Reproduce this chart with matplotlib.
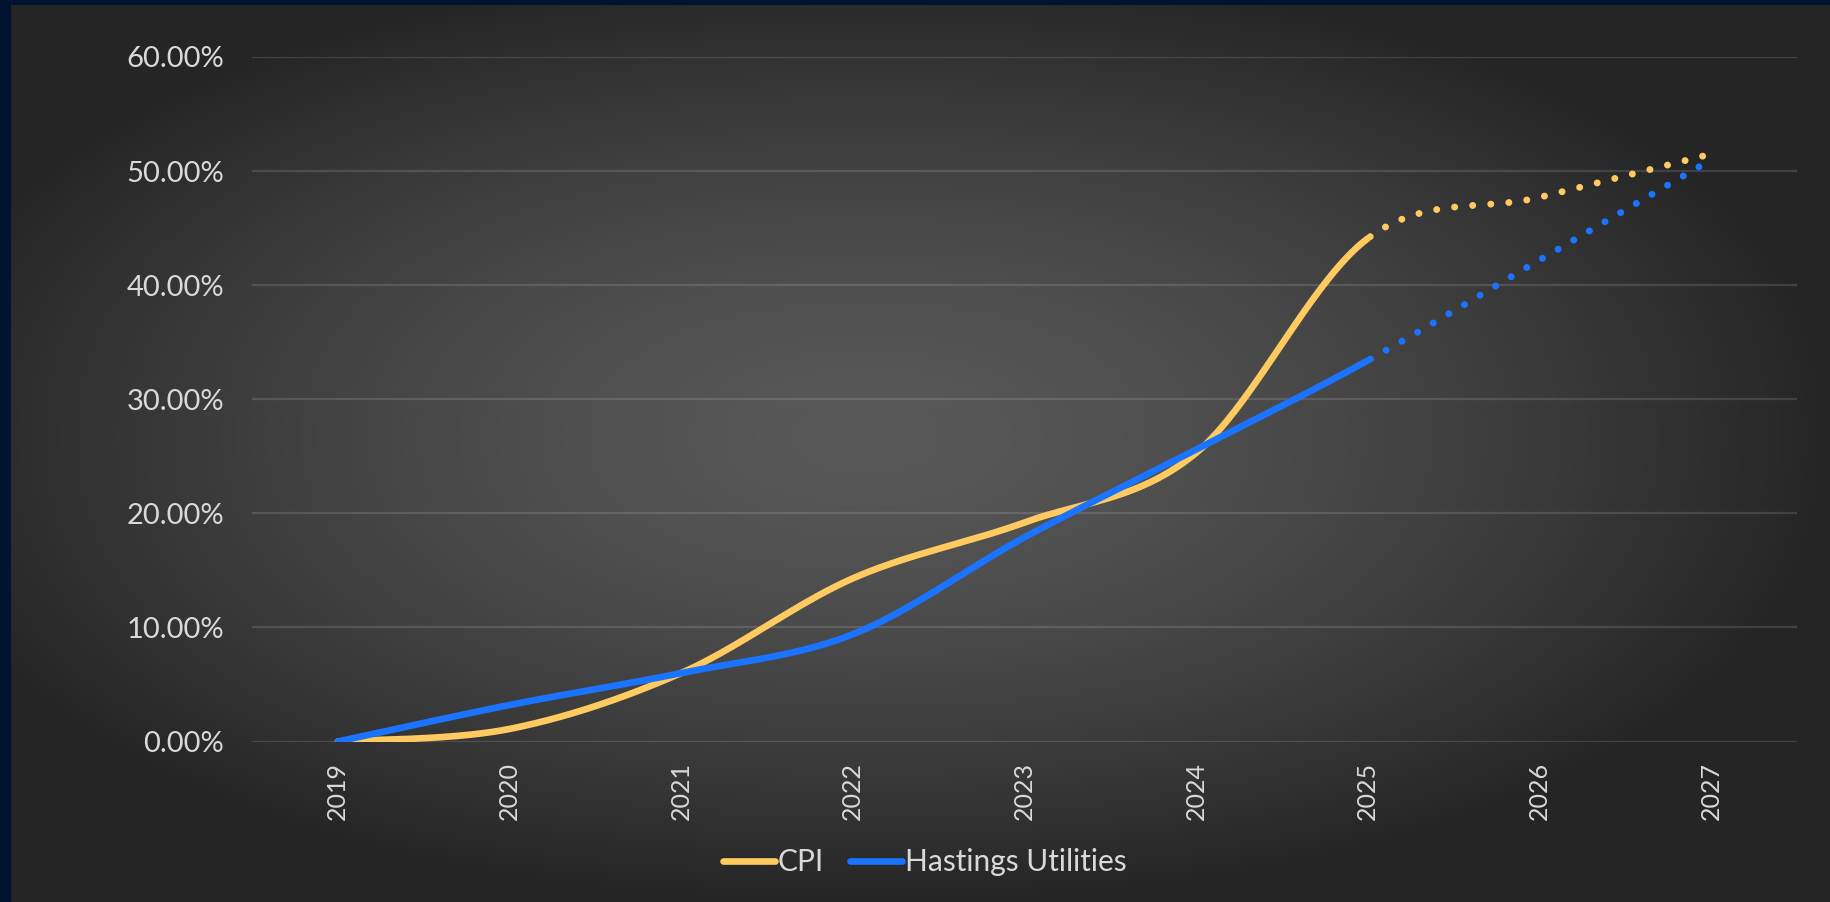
import numpy as np
import matplotlib
matplotlib.use('Agg')
import matplotlib.pyplot as plt
from matplotlib.lines import Line2D
from matplotlib.patches import Rectangle

years = ['2019', '2020', '2021', '2022', '2023', '2024', '2025', '2026', '2027']
cpi = [0.0, 1.1, 6.0, 14.3, 19.2, 25.3, 44.1, 47.7, 51.5]
hastings = [0.0, 3.2, 6.0, 9.4, 17.9, 25.6, 33.4, 42.2, 51.0]
forecast_from = '2025'  # points after this are projections (dotted)

CPI_COLOR = '#FFCA5F'
HU_COLOR = '#1A74FF'
TEXT_COLOR = '#D9D9D9'
FONT = ['Lato', 'DejaVu Sans']


def smooth(xs, ys, steps=40):
    """
    Excel-style smoothed line: cubic bezier per segment,
    control points offset by (P[i+1] - P[i-1]) / 6
    returns dense x, y arrays and the index where each input point lands
    """
    pts = np.column_stack([xs, ys]).astype(float)
    n = len(pts)
    out, knots = [pts[0]], [0]
    for i in range(n - 1):
        p0 = pts[i - 1] if i > 0 else pts[i]
        p1, p2 = pts[i], pts[i + 1]
        p3 = pts[i + 2] if i + 2 < n else pts[i + 1]
        c1 = p1 + (p2 - p0) / 6
        c2 = p2 - (p3 - p1) / 6
        t = np.linspace(0, 1, steps + 1)[1:, None]
        seg = ((1 - t) ** 3 * p1 + 3 * (1 - t) ** 2 * t * c1
               + 3 * (1 - t) * t ** 2 * c2 + t ** 3 * p2)
        out.extend(seg)
        knots.append(len(out) - 1)
    out = np.array(out)
    return out[:, 0], out[:, 1], knots


def background(fig):
    # dark radial fill behind the whole chart, navy strip on top/left
    W, H = 1831, 902
    bg = fig.add_axes([0, 0, 1, 1], zorder=-10)
    yy, xx = np.mgrid[0:H, 0:W]
    cx, cy = 11 + (W - 11) * 0.47, 5 + (H - 5) * 0.48
    dx = np.abs(xx - cx) / ((W - 11) * 0.53)
    dy = np.abs(yy - cy) / ((H - 5) * 0.52)
    d = np.clip((dx ** 2.2 + dy ** 2.2) ** (1 / 2.2), 0, 1)
    v = (0x58 + (0x25 - 0x58) * d ** 1.5) / 255.0
    img = np.dstack([v, v, v])
    bg.imshow(img, extent=[0, W, H, 0], aspect='auto', interpolation='bilinear')
    bg.add_patch(Rectangle((0, 0), 11, H, color='#011330', lw=0))
    bg.add_patch(Rectangle((0, 0), W, 5, color='#011330', lw=0))
    bg.set_xlim(0, W)
    bg.set_ylim(H, 0)
    bg.axis('off')


fig = plt.figure(figsize=(18.31, 9.02), dpi=100)
background(fig)

ax = fig.add_axes([252 / 1831, 1 - 741.5 / 902, (1797 - 252) / 1831, (741.5 - 57) / 902])
ax.patch.set_alpha(0)

x = np.arange(len(years))
split = years.index(forecast_from)

for vals, color in ((cpi, CPI_COLOR), (hastings, HU_COLOR)):
    sx, sy, knots = smooth(x, vals)
    k = knots[split]
    ax.plot(sx[:k + 1], sy[:k + 1], color=color, lw=4.8,
            solid_capstyle='round', zorder=3)
    ax.plot(sx[k:], sy[k:], color=color, lw=5.0,
            linestyle=(2.2, (0.01, 2.6)), dash_capstyle='round', zorder=3)

ax.set_xlim(-0.5, len(years) - 0.5)
ax.set_ylim(0, 60)
ax.set_yticks(np.arange(0, 61, 10))
ax.set_yticklabels(['{:.2f}%'.format(v) for v in np.arange(0, 61, 10)])
ax.set_xticks(x)
ax.set_xticklabels(years, rotation=90)

ax.grid(axis='y', color='white', alpha=0.13, lw=1.6)
ax.grid(axis='x', visible=False)
ax.set_axisbelow(True)
for s in ax.spines.values():
    s.set_visible(False)
ax.tick_params(axis='y', length=0, pad=20, labelcolor=TEXT_COLOR, labelsize=21)
ax.tick_params(axis='x', length=0, pad=15, labelcolor=TEXT_COLOR, labelsize=18)
for lab in ax.get_xticklabels() + ax.get_yticklabels():
    lab.set_family(FONT)

handles = [Line2D([], [], color=CPI_COLOR, lw=4.8, solid_capstyle='round'),
           Line2D([], [], color=HU_COLOR, lw=4.8, solid_capstyle='round')]
fig.legend(handles, ['CPI', 'Hastings Utilities'], loc='center',
           bbox_to_anchor=(0.505, 0.044), ncol=2, frameon=False,
           handlelength=1.75, handletextpad=0.1, columnspacing=0.85,
           prop={'family': FONT, 'size': 21.5}, labelcolor=TEXT_COLOR)

fig.savefig('out.png', dpi=100)
